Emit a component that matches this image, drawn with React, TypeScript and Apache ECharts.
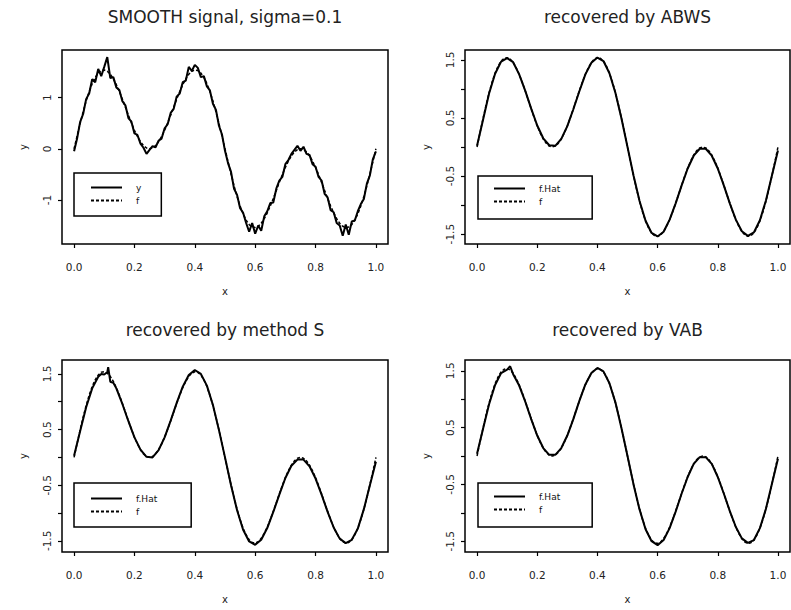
import React, { useEffect, useRef } from "react";
import * as echarts from "echarts";

// Sample grid on [0, 1]
const X_FINE = [
  0, 0.01, 0.02, 0.03, 0.04, 0.05, 0.06, 0.07, 0.08, 0.09,
  0.1, 0.11, 0.12, 0.13, 0.14, 0.15, 0.16, 0.17, 0.18, 0.19,
  0.2, 0.21, 0.22, 0.23, 0.24, 0.25, 0.26, 0.27, 0.28, 0.29,
  0.3, 0.31, 0.32, 0.33, 0.34, 0.35, 0.36, 0.37, 0.38, 0.39,
  0.4, 0.41, 0.42, 0.43, 0.44, 0.45, 0.46, 0.47, 0.48, 0.49,
  0.5, 0.51, 0.52, 0.53, 0.54, 0.55, 0.56, 0.57, 0.58, 0.59,
  0.6, 0.61, 0.62, 0.63, 0.64, 0.65, 0.66, 0.67, 0.68, 0.69,
  0.7, 0.71, 0.72, 0.73, 0.74, 0.75, 0.76, 0.77, 0.78, 0.79,
  0.8, 0.81, 0.82, 0.83, 0.84, 0.85, 0.86, 0.87, 0.88, 0.89,
  0.9, 0.91, 0.92, 0.93, 0.94, 0.95, 0.96, 0.97, 0.98, 0.99, 1.0,
];

// True signal f
const F_TRUE = [
  0, 0.25, 0.493, 0.723, 0.933, 1.118, 1.273, 1.394, 1.48, 1.528,
  1.539, 1.514, 1.455, 1.366, 1.252, 1.118, 0.97, 0.814, 0.656, 0.504,
  0.363, 0.24, 0.138, 0.062, 0.016, 0, 0.016, 0.062, 0.138, 0.24,
  0.363, 0.504, 0.656, 0.814, 0.97, 1.118, 1.252, 1.366, 1.455, 1.514,
  1.539, 1.528, 1.48, 1.394, 1.273, 1.118, 0.933, 0.723, 0.493, 0.25,
  0, -0.25, -0.493, -0.723, -0.933, -1.118, -1.273, -1.394, -1.48, -1.528,
  -1.539, -1.514, -1.455, -1.366, -1.252, -1.118, -0.97, -0.814, -0.656, -0.504,
  -0.363, -0.24, -0.138, -0.062, -0.016, 0, -0.016, -0.062, -0.138, -0.24,
  -0.363, -0.504, -0.656, -0.814, -0.97, -1.118, -1.252, -1.366, -1.455, -1.514,
  -1.539, -1.528, -1.48, -1.394, -1.273, -1.118, -0.933, -0.723, -0.493, -0.25, 0,
];

// Noisy observations y (sigma = 0.1)
const Y_NOISY = [
  -0.05, 0.2, 0.52, 0.68, 0.97, 1.08, 1.36, 1.3, 1.56, 1.42,
  1.6, 1.79, 1.38, 1.4, 1.2, 1.15, 0.93, 0.85, 0.6, 0.53,
  0.3, 0.27, 0.1, 0.02, -0.1, -0.02, 0.05, 0.03, 0.16, 0.2,
  0.4, 0.48, 0.7, 0.78, 1.02, 1.08, 1.3, 1.33, 1.6, 1.52,
  1.64, 1.58, 1.4, 1.42, 1.22, 1.14, 0.88, 0.76, 0.45, 0.28,
  -0.04, -0.28, -0.45, -0.78, -0.9, -1.16, -1.25, -1.45, -1.62, -1.45,
  -1.66, -1.5, -1.6, -1.32, -1.22, -1.06, -1.05, -0.78, -0.62, -0.55,
  -0.3, -0.22, -0.1, -0.02, 0.06, -0.04, 0.04, -0.1, -0.12, -0.3,
  -0.35, -0.55, -0.62, -0.88, -0.95, -1.2, -1.24, -1.45, -1.5, -1.7,
  -1.48, -1.68, -1.42, -1.4, -1.22, -1.08, -0.98, -0.68, -0.52, -0.2, -0.05,
];

const X_COARSE = [
  0, 0.02, 0.04, 0.06, 0.08, 0.1, 0.12, 0.14, 0.16, 0.18,
  0.2, 0.22, 0.24, 0.26, 0.28, 0.3, 0.32, 0.34, 0.36, 0.38,
  0.4, 0.42, 0.44, 0.46, 0.48, 0.5, 0.52, 0.54, 0.56, 0.58,
  0.6, 0.62, 0.64, 0.66, 0.68, 0.7, 0.72, 0.74, 0.76, 0.78,
  0.8, 0.82, 0.84, 0.86, 0.88, 0.9, 0.92, 0.94, 0.96, 0.98, 1.0,
];

// Estimate from ABWS
const FHAT_ABWS = [
  0.02, 0.47, 0.92, 1.26, 1.47, 1.53, 1.46, 1.25, 0.97, 0.66,
  0.37, 0.15, 0.03, 0.02, 0.14, 0.36, 0.65, 0.96, 1.25, 1.45,
  1.54, 1.48, 1.27, 0.93, 0.49, 0.0, -0.49, -0.93, -1.27, -1.48,
  -1.54, -1.46, -1.25, -0.97, -0.66, -0.37, -0.15, -0.03, -0.03, -0.15,
  -0.37, -0.66, -0.97, -1.25, -1.45, -1.53, -1.47, -1.26, -0.92, -0.49, -0.06,
];

// Estimate from method S (small glitch just after x = 0.1)
const X_METHOD_S = [
  0, 0.02, 0.04, 0.06, 0.08, 0.09, 0.1, 0.11, 0.113, 0.12, 0.13,
  0.14, 0.16, 0.18, 0.2, 0.22, 0.24, 0.26, 0.28, 0.3, 0.32,
  0.34, 0.36, 0.38, 0.4, 0.42, 0.44, 0.46, 0.48, 0.5, 0.52,
  0.54, 0.56, 0.58, 0.6, 0.62, 0.64, 0.66, 0.68, 0.7, 0.72,
  0.74, 0.76, 0.78, 0.8, 0.82, 0.84, 0.86, 0.88, 0.9, 0.92,
  0.94, 0.96, 0.98, 1.0,
];
const FHAT_METHOD_S = [
  0.03, 0.47, 0.9, 1.24, 1.45, 1.5, 1.49, 1.53, 1.62, 1.36, 1.34,
  1.24, 0.96, 0.65, 0.36, 0.14, 0.01, 0.0, 0.13, 0.36, 0.66,
  0.98, 1.27, 1.48, 1.57, 1.5, 1.29, 0.94, 0.49, 0.0, -0.5,
  -0.95, -1.3, -1.51, -1.57, -1.48, -1.27, -0.98, -0.67, -0.37, -0.15,
  -0.04, -0.04, -0.16, -0.38, -0.67, -0.98, -1.26, -1.46, -1.54, -1.48,
  -1.28, -0.93, -0.5, -0.08,
];

// Estimate from VAB
const X_VAB = [
  0, 0.02, 0.04, 0.06, 0.08, 0.1, 0.11, 0.12,
  0.14, 0.16, 0.18, 0.2, 0.22, 0.24, 0.26, 0.28, 0.3, 0.32,
  0.34, 0.36, 0.38, 0.4, 0.42, 0.44, 0.46, 0.48, 0.5, 0.52,
  0.54, 0.56, 0.58, 0.6, 0.62, 0.64, 0.66, 0.68, 0.7, 0.72,
  0.74, 0.76, 0.78, 0.8, 0.82, 0.84, 0.86, 0.88, 0.9, 0.92,
  0.94, 0.96, 0.98, 1.0,
];
const FHAT_VAB = [
  0.04, 0.48, 0.91, 1.25, 1.46, 1.52, 1.58, 1.44,
  1.24, 0.96, 0.65, 0.36, 0.14, 0.02, 0.02, 0.14, 0.36, 0.65,
  0.97, 1.26, 1.46, 1.55, 1.49, 1.28, 0.94, 0.49, 0.0, -0.5,
  -0.94, -1.29, -1.5, -1.57, -1.48, -1.27, -0.98, -0.66, -0.37, -0.14,
  -0.02, -0.02, -0.14, -0.37, -0.66, -0.97, -1.25, -1.45, -1.53, -1.48,
  -1.27, -0.93, -0.49, -0.05,
];

const TITLES = [
  "SMOOTH signal, sigma=0.1",
  "recovered by ABWS",
  "recovered by method S",
  "recovered by VAB",
];

const X_TICKS = [0, 0.2, 0.4, 0.6, 0.8, 1.0];
const Y_TICKS_SIGNAL = [-1, 0, 1];
const Y_TICKS_RECOVERED = [-1.5, -1, -0.5, 0, 0.5, 1, 1.5];
const Y_LABELS_RECOVERED = [-1.5, -0.5, 0.5, 1.5];

const FONT = "DejaVu Sans";
const INK = "#111";

const zip = (xs: number[], ys: number[]) => xs.map((x, i) => [x, ys[i]]);

export default function App() {
  const ref = useRef<HTMLDivElement>(null);

  useEffect(() => {
    if (!ref.current) return;
    const chart = echarts.init(ref.current, undefined, { renderer: "svg" });

    const grids = [
      { left: 62, top: 50, width: 326, height: 194 },
      { left: 465, top: 50, width: 325, height: 194 },
      { left: 62, top: 360, width: 326, height: 192 },
      { left: 465, top: 360, width: 325, height: 192 },
    ];
    const yRanges = [
      [-1.86, 1.93],
      [-1.67, 1.67],
      [-1.7, 1.75],
      [-1.69, 1.69],
    ];
    const titleTops = [8, 8, 321, 321];

    const tickStyle = { color: "#000", width: 1.2 };
    const labelStyle = { fontFamily: FONT, fontSize: 10.5, color: "#222" };

    const xAxes = grids.map((_, i) => ({
      type: "value",
      gridIndex: i,
      min: -0.04,
      max: 1.04,
      axisLine: { show: false, onZero: false },
      splitLine: { show: false },
      axisTick: { show: true, length: 4, customValues: X_TICKS, lineStyle: tickStyle },
      axisLabel: {
        customValues: X_TICKS,
        formatter: (v: number) => v.toFixed(1),
        margin: 17,
        ...labelStyle,
      },
      name: "x",
      nameLocation: "middle",
      nameGap: 42,
      nameTextStyle: { ...labelStyle, fontSize: 10 },
    }));

    const yAxes = grids.map((_, i) => {
      const ticks = i === 0 ? Y_TICKS_SIGNAL : Y_TICKS_RECOVERED;
      const labels = i === 0 ? Y_TICKS_SIGNAL : Y_LABELS_RECOVERED;
      return {
        type: "value",
        gridIndex: i,
        min: yRanges[i][0],
        max: yRanges[i][1],
        axisLine: { show: false, onZero: false },
        splitLine: { show: false },
        axisTick: { show: true, length: 4, customValues: ticks, lineStyle: tickStyle },
        axisLabel: {
          customValues: labels,
          rotate: 90,
          formatter: (v: number) => String(v),
          margin: 10,
          ...labelStyle,
        },
        name: "y",
        nameLocation: "middle",
        nameRotate: 90,
        nameGap: 34,
        nameTextStyle: { ...labelStyle, fontSize: 10 },
      };
    });

    const truthSeries = (i: number) => ({
      name: "f",
      type: "line",
      xAxisIndex: i,
      yAxisIndex: i,
      data: zip(X_FINE, F_TRUE),
      showSymbol: false,
      symbol: "none",
      itemStyle: { color: "#000" },
      lineStyle: { color: "#000", width: 1.5, type: [3, 2] },
      z: 2,
    });
    const mainSeries = (i: number, name: string, xs: number[], ys: number[]) => ({
      name,
      type: "line",
      xAxisIndex: i,
      yAxisIndex: i,
      data: zip(xs, ys),
      showSymbol: false,
      symbol: "none",
      itemStyle: { color: "#000" },
      lineStyle: { color: "#000", width: 2 },
      z: 3,
    });

    const legendBase = {
      orient: "vertical",
      itemWidth: 31,
      itemHeight: 8,
      itemGap: 0,
      borderColor: "#000",
      borderWidth: 1.5,
      borderRadius: 0,
      selectedMode: false,
      itemStyle: { opacity: 0 },
      textStyle: { fontFamily: FONT, fontSize: 9, lineHeight: 13, color: INK, padding: [0, 0, 0, 9] },
    };

    chart.setOption({
      animation: false,
      backgroundColor: "#fff",
      title: TITLES.map((t, i) => ({
        text: t,
        left: grids[i].left + grids[i].width / 2,
        top: titleTops[i],
        textAlign: "center",
        padding: 0,
        textStyle: { fontFamily: FONT, fontSize: 17, fontWeight: "normal", color: "#222" },
      })),
      legend: [
        { ...legendBase, data: ["y", "f"], left: 74, top: 173, padding: [8, 20, 9, 16] },
        { ...legendBase, data: ["f.Hat", "f"], left: 478, top: 176, padding: [6, 32, 11, 15] },
        { ...legendBase, data: ["f.Hat", "f"], left: 74, top: 483, padding: [9, 34, 9, 16] },
        { ...legendBase, data: ["f.Hat", "f"], left: 478, top: 483, padding: [7, 32, 11, 15] },
      ],
      grid: grids.map((g) => ({
        ...g,
        show: true,
        borderColor: "#000",
        borderWidth: 1.5,
        backgroundColor: "transparent",
      })),
      xAxis: xAxes,
      yAxis: yAxes,
      series: [
        truthSeries(0),
        mainSeries(0, "y", X_FINE, Y_NOISY),
        truthSeries(1),
        mainSeries(1, "f.Hat", X_COARSE, FHAT_ABWS),
        truthSeries(2),
        mainSeries(2, "f.Hat", X_METHOD_S, FHAT_METHOD_S),
        truthSeries(3),
        mainSeries(3, "f.Hat", X_VAB, FHAT_VAB),
      ],
    });

    return () => chart.dispose();
  }, []);

  return (
    <div
      ref={ref}
      style={{ position: "fixed", left: 0, top: 0, width: 791, height: 610, background: "#fff" }}
    />
  );
}
